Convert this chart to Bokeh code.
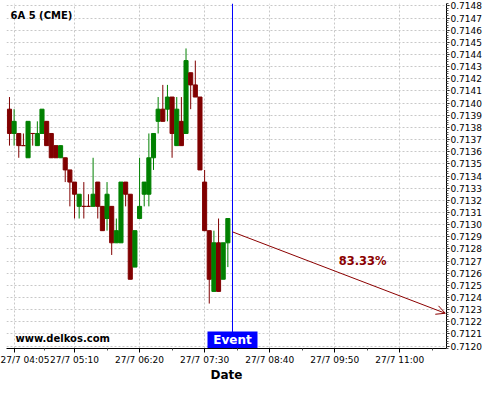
from bokeh.plotting import figure
from bokeh.models import (FixedTicker, PrintfTickFormatter, Span, Label, Arrow,
                          OpenHead, ColumnDataSource)
from bokeh.embed import file_html
from bokeh.resources import INLINE

# ---- data (5-minute bars, 27/7) ----
start_time = "04:00"
bar_minutes = 5
opens = [0.71395, 0.71375, 0.71375, 0.71365, 0.71355, 0.71375, 0.71365, 0.71375,
         0.71385, 0.71375, 0.71365, 0.71355, 0.71355, 0.71345, 0.71335, 0.71315,
         0.71315, 0.71315, 0.71315, 0.71335, 0.71315, 0.71305, 0.71315, 0.71285,
         0.71285, 0.71335, 0.71325, 0.71265, 0.71305, 0.71325, 0.71325, 0.71355,
         0.71385, 0.71395, 0.71395, 0.71405, 0.71365, 0.71385, 0.71375, 0.71425,
         0.71415, 0.71405, 0.71335, 0.71295, 0.71245, 0.71285, 0.71255, 0.71285]
highs = [0.71405, 0.71395, 0.71375, 0.71375, 0.71385, 0.71375, 0.71385, 0.71395,
         0.71385, 0.71375, 0.71365, 0.71365, 0.71355, 0.71345, 0.71335, 0.71325,
         0.71335, 0.71325, 0.71355, 0.71335, 0.71315, 0.71335, 0.71315, 0.71305,
         0.71335, 0.71335, 0.71325, 0.71295, 0.71355, 0.71335, 0.71375, 0.71375,
         0.71405, 0.71415, 0.71415, 0.71405, 0.71405, 0.71405, 0.71445, 0.71425,
         0.71435, 0.71405, 0.71345, 0.71295, 0.71295, 0.71305, 0.71285, 0.71305]
lows = [0.71365, 0.71365, 0.71355, 0.71365, 0.71355, 0.71365, 0.71365, 0.71375,
        0.71365, 0.71355, 0.71355, 0.71355, 0.71335, 0.71315, 0.71305, 0.71305,
        0.71305, 0.71315, 0.71315, 0.71305, 0.71295, 0.71295, 0.71275, 0.71285,
        0.71285, 0.71315, 0.71255, 0.71265, 0.71305, 0.71315, 0.71315, 0.71345,
        0.71375, 0.71385, 0.71385, 0.71355, 0.71365, 0.71365, 0.71375, 0.71395,
        0.71405, 0.71345, 0.71295, 0.71235, 0.71245, 0.71245, 0.71255, 0.71265]
closes = [0.71375, 0.71385, 0.71365, 0.71365, 0.71385, 0.71375, 0.71375, 0.71395,
          0.71365, 0.71355, 0.71355, 0.71365, 0.71345, 0.71335, 0.71325, 0.71325,
          0.71315, 0.71315, 0.71325, 0.71315, 0.71295, 0.71325, 0.71285, 0.71295,
          0.71335, 0.71325, 0.71255, 0.71295, 0.71315, 0.71335, 0.71355, 0.71375,
          0.71395, 0.71385, 0.71405, 0.71375, 0.71395, 0.71365, 0.71435, 0.71415,
          0.71405, 0.71345, 0.71295, 0.71255, 0.71285, 0.71245, 0.71285, 0.71305]

x_tick_times = ["04:05", "05:10", "06:20", "07:30", "08:40", "09:50", "11:00"]
x_tick_labels = ["27/7 04:05", "27/7 05:10", "27/7 06:20", "27/7 07:30",
                 "27/7 08:40", "27/7 09:50", "27/7 11:00"]
y_tick_values = [0.7120, 0.7121, 0.7122, 0.7123, 0.7124, 0.7125, 0.7126, 0.7127,
                 0.7128, 0.7129, 0.7130, 0.7131, 0.7132, 0.7133, 0.7134, 0.7135,
                 0.7136, 0.7137, 0.7138, 0.7139, 0.7140, 0.7141, 0.7142, 0.7143,
                 0.7144, 0.7145, 0.7146, 0.7147, 0.7148]

title_text = "6A 5 (CME)"
site_text = "www.delkos.com"
event_time = "08:00"
event_text = "Event"
arrow_start = ("08:00", 0.71294)
arrow_end = ("11:49", 0.71227)
forecast_text = "83.33%"
forecast_pos = ("10:20", 0.71270)
x_axis_title = "Date"


def minutes(hhmm):
    h, m = hhmm.split(":")
    return int(h) * 60 + int(m)


t0 = minutes(start_time)
xs = [t0 + bar_minutes * i for i in range(len(opens))]
UP, DOWN = "#008000", "#800000"
colors = [UP if c > o else DOWN for o, c in zip(opens, closes)]
src = ColumnDataSource(dict(
    x=xs, o=opens, h=highs, l=lows, c=closes,
    top=[max(o, c) for o, c in zip(opens, closes)],
    bottom=[min(o, c) for o, c in zip(opens, closes)],
    color=colors))

FONT = "DejaVu Sans"
X0, X1 = 236.8, 710.3
Y0, Y1 = 0.71198, 0.71482
FRAME_W, FRAME_H = 440, 345
p = figure(width=484, height=384, output_backend="svg", toolbar_location=None,
           x_range=(X0, X1), y_range=(Y0, Y1),
           y_axis_location="right",
           min_border_left=6, min_border_top=3, min_border_right=38,
           min_border_bottom=30)
p.outline_line_color = None
p.background_fill_color = "white"
p.border_fill_color = "white"

p.segment(x0="x", y0="l", x1="x", y1="h", line_color="color", line_width=1, source=src)
p.vbar(x="x", width=4.4, top="top", bottom="bottom", fill_color="color",
       line_color="color", line_width=1, source=src)

# axes
xt = [minutes(t) for t in x_tick_times]
x_minor = [(a + b) / 2 for a, b in zip([xt[0] - 70] + xt, xt + [xt[-1] + 70])]
p.xaxis.ticker = FixedTicker(ticks=xt, minor_ticks=x_minor)
p.xaxis.major_label_overrides = {float(v): lab for v, lab in zip(xt, x_tick_labels)}
p.xaxis.axis_label = x_axis_title
p.yaxis.ticker = FixedTicker(ticks=y_tick_values,
                             minor_ticks=[0.71196 + 0.00002 * i for i in range(150)])
p.yaxis.formatter = PrintfTickFormatter(format="%.4f")

for ax in (p.xaxis[0], p.yaxis[0]):
    ax.axis_line_color = "black"
    ax.major_tick_line_color = "black"
    ax.minor_tick_line_color = "#555555"
    ax.major_tick_in = 0
    ax.major_tick_out = 4
    ax.minor_tick_in = 0
    ax.minor_tick_out = 2
    ax.major_label_text_font = FONT
    ax.major_label_text_font_size = "9px"
    ax.major_label_text_color = "black"
    ax.major_label_text_line_height = 1.0
    ax.axis_label_text_font = FONT
    ax.axis_label_text_font_size = "12px"
    ax.axis_label_text_font_style = "bold"
    ax.axis_label_text_color = "black"
    ax.axis_label_text_line_height = 1.0
p.xaxis.major_label_standoff = 2
p.xaxis.axis_label_standoff = 0
p.yaxis.major_tick_out = 3
p.yaxis.major_label_standoff = 1

p.grid.grid_line_color = "#c8c8c8"
p.grid.grid_line_dash = "2 2"
p.grid.grid_line_width = 1

# event line and label
ev = minutes(event_time)
p.add_layout(Span(location=ev, dimension="height", line_color="#0000ff", line_width=1))
box_half = 25 * (X1 - X0) / FRAME_W  # 25 px expressed in minutes
box_top = Y0 + 17 * (Y1 - Y0) / FRAME_H
p.quad(left=[ev - box_half], right=[ev + box_half], bottom=[Y0 - 0.0001],
       top=[box_top], fill_color="#0000ff", line_color=None)
p.add_layout(Label(x=ev, y=8.5, x_units="data", y_units="screen", text=event_text,
                   text_color="white", text_font=FONT, text_font_style="bold",
                   text_font_size="12px", text_align="center", text_baseline="middle"))

# forecast arrow
ac = "#8b0000"
p.add_layout(Arrow(end=OpenHead(size=9, line_color=ac, line_width=1),
                   x_start=minutes(arrow_start[0]), y_start=arrow_start[1],
                   x_end=minutes(arrow_end[0]), y_end=arrow_end[1],
                   line_color=ac, line_width=1))
p.add_layout(Label(x=minutes(forecast_pos[0]), y=forecast_pos[1], text=forecast_text,
                   text_color=ac, text_font=FONT, text_font_style="bold",
                   text_font_size="11.5px", text_align="center", text_baseline="middle"))

# title and site labels
p.add_layout(Label(x=X0 + 4 * (X1 - X0) / FRAME_W, y=Y1 - 12 * (Y1 - Y0) / FRAME_H,
                   text=title_text, text_color="black", text_font=FONT,
                   text_font_style="bold", text_font_size="10px",
                   text_baseline="middle"))
p.add_layout(Label(x=9, y=10, x_units="screen", y_units="screen", text=site_text,
                   text_color="black", text_font=FONT, text_font_style="bold",
                   text_font_size="10px", text_baseline="middle"))

open("out.html", "w").write(file_html(p, INLINE))
